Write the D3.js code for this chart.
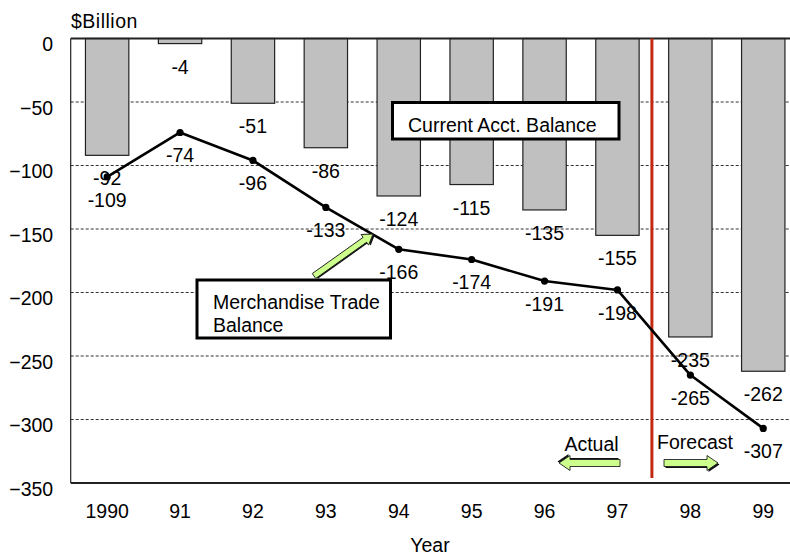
<!DOCTYPE html>
<html>
<head>
<meta charset="utf-8">
<script src="https://cdn.jsdelivr.net/npm/d3@7/dist/d3.min.js"></script>
<style>
  html, body { margin: 0; padding: 0; background: #fff; overflow: hidden; }
  svg { display: block; font-family: Arial, "Liberation Sans", Helvetica, sans-serif; }
</style>
</head>
<body>
<svg id="chart" width="790" height="557"></svg>
<script>
// U.S. external balances, $ billion (1998–99 forecast)
const years = ["1990", "91", "92", "93", "94", "95", "96", "97", "98", "99"];
const currentAcct = [-92, -4, -51, -86, -124, -115, -135, -155, -235, -262];
const merchTrade = [-109, -74, -96, -133, -166, -174, -191, -198, -265, -307];
const yTicks = [0, -50, -100, -150, -200, -250, -300, -350];

const svg = d3.select("#chart");
const FONT = 19.5;

const plot = { left: 70.7, right: 799.7, top: 38.5, bottom: 483 };

const x = d3.scaleBand()
  .domain(years)
  .range([plot.left, plot.right])
  .paddingInner(0.405)
  .paddingOuter(0.2025);

const y = d3.scaleLinear()
  .domain([0, -350])
  .range([plot.top, plot.bottom]);

const cx = d => x(d) + x.bandwidth() / 2;

// dashed gridlines
svg.append("g")
  .selectAll("line")
  .data(yTicks.filter(v => v !== 0 && v !== -350))
  .join("line")
  .attr("x1", plot.left).attr("x2", plot.right)
  .attr("y1", d => y(d)).attr("y2", d => y(d))
  .attr("stroke", "#333").attr("stroke-width", 1)
  .attr("stroke-dasharray", "3,2");

// current account bars
svg.append("g")
  .selectAll("rect")
  .data(years)
  .join("rect")
  .attr("x", d => x(d))
  .attr("y", y(0))
  .attr("width", x.bandwidth())
  .attr("height", (d, i) => y(currentAcct[i]) - y(0))
  .attr("fill", "#c0c0c0")
  .attr("stroke", "#222")
  .attr("stroke-width", 1.2);

// axis frame: zero line on top, bottom baseline, left spine
svg.append("line")
  .attr("x1", plot.left).attr("x2", plot.right)
  .attr("y1", y(0)).attr("y2", y(0))
  .attr("stroke", "#222").attr("stroke-width", 2);
svg.append("line")
  .attr("x1", plot.left).attr("x2", plot.right)
  .attr("y1", y(-350)).attr("y2", y(-350))
  .attr("stroke", "#222").attr("stroke-width", 2);
svg.append("line")
  .attr("x1", plot.left).attr("x2", plot.left)
  .attr("y1", y(0)).attr("y2", y(-350))
  .attr("stroke", "#222").attr("stroke-width", 1.2);

// y axis labels
const yAxis = svg.append("g")
  .attr("transform", `translate(${plot.left},0)`)
  .call(d3.axisLeft(y).tickValues(yTicks).tickSize(0).tickPadding(17.5).tickFormat(d3.format("d")));
yAxis.select(".domain").remove();
yAxis.selectAll("text")
  .attr("font-size", FONT).attr("font-family", "Arial, 'Liberation Sans', sans-serif")
  .attr("fill", "#000").attr("dy", "0.62em");

// x axis labels
const xAxis = svg.append("g")
  .attr("transform", `translate(0,${plot.bottom})`)
  .call(d3.axisBottom(x).tickSize(0));
xAxis.select(".domain").remove();
xAxis.selectAll("text")
  .attr("font-size", FONT).attr("font-family", "Arial, 'Liberation Sans', sans-serif")
  .attr("fill", "#000").attr("y", 35).attr("dy", 0);

// titles
svg.append("text")
  .attr("x", 71).attr("y", 27.5)
  .attr("font-size", FONT).attr("letter-spacing", 0.5)
  .text("$Billion");
svg.append("text")
  .attr("x", 430).attr("y", 552)
  .attr("text-anchor", "middle")
  .attr("font-size", FONT)
  .text("Year");

// forecast divider
const divX = (cx("97") + cx("98")) / 2 - 2;
svg.append("line")
  .attr("x1", divX).attr("x2", divX)
  .attr("y1", y(0)).attr("y2", 478)
  .attr("stroke", "#c42a12").attr("stroke-width", 3);

// merchandise trade line
const line = d3.line()
  .x((d, i) => cx(years[i]))
  .y(d => y(d));
svg.append("path")
  .datum(merchTrade)
  .attr("d", line)
  .attr("fill", "none")
  .attr("stroke", "#000")
  .attr("stroke-width", 2.6)
  .attr("stroke-linejoin", "round");
svg.append("g")
  .selectAll("circle")
  .data(merchTrade)
  .join("circle")
  .attr("cx", (d, i) => cx(years[i]))
  .attr("cy", d => y(d))
  .attr("r", 3.6)
  .attr("fill", "#000");

// value labels below bar ends and line points
const labelGroup = svg.append("g")
  .attr("font-size", FONT)
  .attr("text-anchor", "middle");
labelGroup.selectAll("text.bar")
  .data(currentAcct)
  .join("text")
  .attr("class", "bar")
  .attr("x", (d, i) => cx(years[i]))
  .attr("y", d => y(d) + 30)
  .text(d => d);
labelGroup.selectAll("text.pt")
  .data(merchTrade)
  .join("text")
  .attr("class", "pt")
  .attr("x", (d, i) => cx(years[i]))
  .attr("y", d => y(d) + 30)
  .text(d => d);

// callout boxes
function callout(bx, by, bw, bh, lines, tx, ty, lh) {
  svg.append("rect")
    .attr("x", bx).attr("y", by).attr("width", bw).attr("height", bh)
    .attr("fill", "#fff").attr("stroke", "#000").attr("stroke-width", 3);
  const t = svg.append("text").attr("font-size", FONT);
  lines.forEach((s, i) => {
    t.append("tspan").attr("x", tx).attr("y", ty + i * lh).text(s);
  });
}
callout(392.5, 102.5, 226.5, 36.5, ["Current Acct. Balance"], 408, 131.5, 0);
callout(197, 280, 193.5, 58, ["Merchandise Trade", "Balance"], 213, 308.5, 23);

// block arrows (shaft length L, shaft half-thickness s, head half-height h, head length k)
function blockArrow(x0, y0, x1, y1, s, h, k) {
  const L = Math.hypot(x1 - x0, y1 - y0);
  const ang = Math.atan2(y1 - y0, x1 - x0) * 180 / Math.PI;
  const pts = [[0, -s], [L - k, -s], [L - k, -h], [L, 0], [L - k, h], [L - k, s], [0, s]];
  const g = svg.append("g").attr("transform", `translate(${x0},${y0}) rotate(${ang})`);
  g.append("polygon")
    .attr("points", pts.map(p => p.join(",")).join(" "))
    .attr("transform", "translate(1.5,1.5)")
    .attr("fill", "#111");
  g.append("polygon")
    .attr("points", pts.map(p => p.join(",")).join(" "))
    .attr("fill", "#ccff8c")
    .attr("stroke", "#222").attr("stroke-width", 0.9)
    .attr("stroke-linejoin", "round");
}
blockArrow(314, 276, 373, 234, 3, 6.5, 10);
blockArrow(620, 463, 559, 463, 3.5, 7.5, 11);
blockArrow(664, 463, 718, 463, 3.5, 7.5, 11);

svg.append("text").attr("x", 591.5).attr("y", 451).attr("text-anchor", "middle")
  .attr("font-size", FONT).text("Actual");
svg.append("text").attr("x", 695).attr("y", 448.5).attr("text-anchor", "middle")
  .attr("font-size", FONT).text("Forecast");
</script>
</body>
</html>
